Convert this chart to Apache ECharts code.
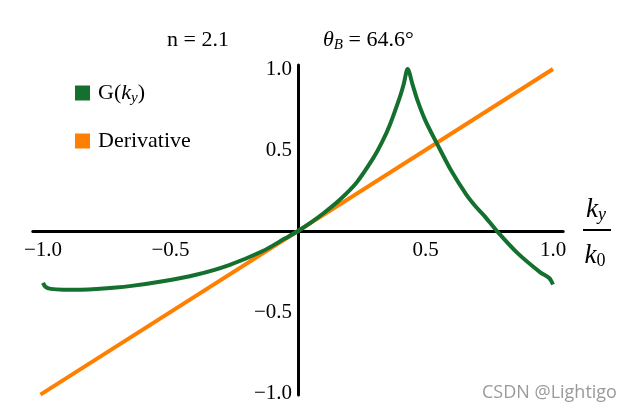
<!DOCTYPE html>
<html>
<head>
<meta charset="utf-8">
<script src="https://cdn.jsdelivr.net/npm/echarts@6/dist/echarts.min.js"></script>
<style>
html,body{margin:0;padding:0;background:#fff;}
#chart{width:639px;height:414px;}
</style>
</head>
<body>
<div id="chart"></div>
<script>
// ---- data ----
const gX = [-1.0, -0.99, -0.97, -0.92, -0.85, -0.79, -0.66, -0.53, -0.40, -0.27, -0.14, -0.05, 0.0,
            0.05, 0.10, 0.165, 0.23, 0.295, 0.33, 0.36, 0.40, 0.415, 0.43,
            0.45, 0.47, 0.50, 0.545, 0.60, 0.66, 0.695, 0.73, 0.78, 0.86, 0.95, 0.985, 1.0];
const gY = [-0.32, -0.345, -0.357, -0.362, -0.362, -0.358, -0.34, -0.31, -0.27, -0.21, -0.125, -0.045, 0.0,
            0.052, 0.11, 0.195, 0.30, 0.45, 0.55, 0.655, 0.83, 0.91, 1.0,
            0.90, 0.80, 0.68, 0.54, 0.375, 0.225, 0.155, 0.095, 0.0, -0.135, -0.255, -0.29, -0.33];
const derivX = [-1.01, 1.0];
const derivY = [-1.01, 1.0];
const xTickValues = [-1.0, -0.5, 0.5, 1.0];
const yTickValues = [-1.0, -0.5, 0.5, 1.0];
const seriesNames = ['G(ky)', 'Derivative'];

const SERIF = '"Liberation Serif", "DejaVu Serif", serif';
const green = '#14702e';
const orange = '#ff8000';

const zip = (xs, ys) => xs.map((x, i) => [x, ys[i]]);
const fmt = v => (v < 0 ? '\u2212' : '') + Math.abs(v).toFixed(1);

const X_MIN = -1.04, X_MAX = 1.04, Y_MIN = -1.012, Y_MAX = 1.025;
const G_LEFT = 32.8, G_TOP = 65, G_W = 530.4, G_H = 330;
// shift axes so they cross at the origin (labels follow the axes)
const xOffset = -(G_H * (0 - Y_MIN) / (Y_MAX - Y_MIN));
const yOffset = -(G_W * (0 - X_MIN) / (X_MAX - X_MIN));

const chart = echarts.init(document.getElementById('chart'), null, {renderer: 'canvas'});
chart.setOption({
  animation: false,
  backgroundColor: '#fff',
  grid: {left: G_LEFT, top: G_TOP, width: G_W, height: G_H, containLabel: false, outerBoundsMode: 'none'},
  xAxis: {
    type: 'value', min: X_MIN, max: X_MAX, position: 'bottom', offset: xOffset,
    axisLine: {onZero: false, lineStyle: {color: '#000', width: 3}},
    axisTick: {show: false},
    splitLine: {show: false},
    axisLabel: {customValues: xTickValues, formatter: fmt, color: '#000', fontFamily: SERIF, fontSize: 21, margin: 9}
  },
  yAxis: {
    type: 'value', min: Y_MIN, max: Y_MAX, position: 'left', offset: yOffset,
    axisLine: {onZero: false, lineStyle: {color: '#000', width: 3}},
    axisTick: {show: false},
    splitLine: {show: false},
    axisLabel: {customValues: yTickValues, formatter: fmt, color: '#000', fontFamily: SERIF, fontSize: 21, margin: 6}
  },
  legend: {
    orient: 'vertical', left: 70, top: 77,
    data: seriesNames,
    icon: 'rect', itemWidth: 15, itemHeight: 15, itemGap: 24,
    formatter: name => name === 'G(ky)' ? '{n|G(}{i|k}{s|y}{n|)}' : '{n|' + name + '}',
    textStyle: {
      color: '#000', fontFamily: SERIF, fontSize: 22, padding: [0, 0, 0, 3],
      rich: {
        n: {fontFamily: SERIF, fontSize: 22, lineHeight: 26, color: '#000'},
        i: {fontFamily: SERIF, fontSize: 22, fontStyle: 'italic', lineHeight: 26, color: '#000'},
        s: {fontFamily: SERIF, fontSize: 15, fontStyle: 'italic', lineHeight: 15, verticalAlign: 'bottom', color: '#000'}
      }
    }
  },
  series: [
    {
      name: seriesNames[0], type: 'line', data: zip(gX, gY), smooth: 0.3,
      showSymbol: false, z: 3, color: green,
      lineStyle: {color: green, width: 4}
    },
    {
      name: seriesNames[1], type: 'line', data: zip(derivX, derivY),
      showSymbol: false, z: 2, color: orange,
      lineStyle: {color: orange, width: 4, cap: 'butt'}
    }
  ],
  graphic: [
    {type: 'text', x: 167, y: 40, style: {text: 'n = 2.1', font: '22px ' + SERIF, fill: '#000', textVerticalAlign: 'middle', verticalAlign: 'middle'}},
    {type: 'text', x: 323, y: 40, style: {
      text: '{i|\u03b8}{s|B}{n| = 64.6\u00b0}', verticalAlign: 'middle', textVerticalAlign: 'middle',
      rich: {
        i: {fontFamily: SERIF, fontSize: 22, fontStyle: 'italic', lineHeight: 26, fill: '#000'},
        s: {fontFamily: SERIF, fontSize: 15, fontStyle: 'italic', lineHeight: 15, verticalAlign: 'bottom', fill: '#000'},
        n: {fontFamily: SERIF, fontSize: 22, lineHeight: 26, fill: '#000'}
      }
    }},
    {type: 'text', x: 596, y: 210, style: {
      text: '{i|k}{s|y}', align: 'center', textAlign: 'center', verticalAlign: 'middle', textVerticalAlign: 'middle',
      rich: {
        i: {fontFamily: SERIF, fontSize: 27, fontStyle: 'italic', lineHeight: 28, fill: '#000'},
        s: {fontFamily: SERIF, fontSize: 18, fontStyle: 'italic', lineHeight: 18, verticalAlign: 'bottom', fill: '#000'}
      }
    }},
    {type: 'line', shape: {x1: 583, y1: 230, x2: 611, y2: 230}, style: {stroke: '#000', lineWidth: 2}},
    {type: 'text', x: 595, y: 256, style: {
      text: '{i|k}{s|0}', align: 'center', textAlign: 'center', verticalAlign: 'middle', textVerticalAlign: 'middle',
      rich: {
        i: {fontFamily: SERIF, fontSize: 27, fontStyle: 'italic', lineHeight: 28, fill: '#000'},
        s: {fontFamily: SERIF, fontSize: 18, lineHeight: 18, verticalAlign: 'bottom', fill: '#000'}
      }
    }},
    {type: 'text', x: 482, y: 393, style: {text: 'CSDN @Lightigo', font: '18px "Open Sans", "Noto Sans", sans-serif', fill: '#9a9a9a', textVerticalAlign: 'middle', verticalAlign: 'middle'}}
  ]
});
</script>
</body>
</html>
